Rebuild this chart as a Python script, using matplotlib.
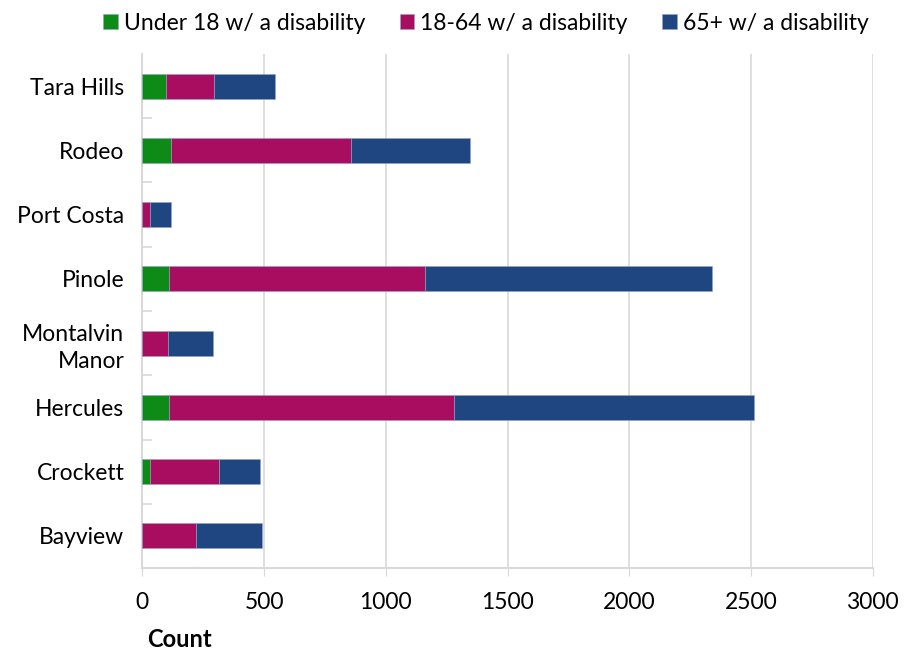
import matplotlib.pyplot as plt
from matplotlib.ticker import FixedLocator

plt.rcParams['font.family'] = ['Lato', 'DejaVu Sans']

places = ["Tara Hills", "Rodeo", "Port Costa", "Pinole", "Montalvin\nManor",
          "Hercules", "Crockett", "Bayview"]
under_18 = [97, 118, 0, 108, 0, 108, 31, 0]
age_18_64 = [195, 737, 31, 1052, 103, 1172, 285, 222]
age_65_up = [254, 491, 86, 1180, 185, 1232, 167, 268]

series = [
    ("Under 18 w/ a disability", under_18, "#0e8a16"),
    ("18-64 w/ a disability", age_18_64, "#a90d60"),
    ("65+ w/ a disability", age_65_up, "#1f4680"),
]

fig = plt.figure(figsize=(9.13, 6.5), dpi=100)
ax = fig.add_axes([0.156, 0.126, 0.800, 0.791])

ypos = list(range(len(places)))[::-1]
left = [0] * len(places)
for name, vals, color in series:
    ax.barh(ypos, vals, left=left, height=0.39, color=color, label=name,
            edgecolor="#8fa3c8", linewidth=0.4, zorder=3)
    left = [a + b for a, b in zip(left, vals)]

ax.set_xlim(0, 3000)
ax.set_ylim(-0.5, len(places) - 0.5)
ax.set_xticks(range(0, 3001, 500))
ax.set_yticks(ypos)
ax.set_yticklabels(places, fontsize=16.5, linespacing=1.35)
ax.tick_params(axis="x", labelsize=16.5, length=6, color="#d9d9d9", pad=11)
ax.tick_params(axis="y", length=0, pad=13)
ax.yaxis.set_minor_locator(FixedLocator([y + 0.5 for y in range(len(places) - 1)]))
ax.tick_params(axis="y", which="minor", direction="in", length=7, color="#d9d9d9", width=1.2)

ax.grid(axis="x", color="#d9d9d9", linewidth=1.2, zorder=0)
for side in ["top", "right"]:
    ax.spines[side].set_visible(False)
for side in ["left", "bottom"]:
    ax.spines[side].set_color("#d9d9d9")
    ax.spines[side].set_linewidth(1.5)

fig.legend(loc="upper center", bbox_to_anchor=(0.532, 1.012), ncol=3, frameon=False,
           fontsize=16.5, handlelength=0.65, handleheight=0.65, handletextpad=0.25,
           columnspacing=1.5)

fig.text(0.161, 0.005, "Count", fontsize=17, fontweight="bold")

fig.savefig("out.png", dpi=100)
